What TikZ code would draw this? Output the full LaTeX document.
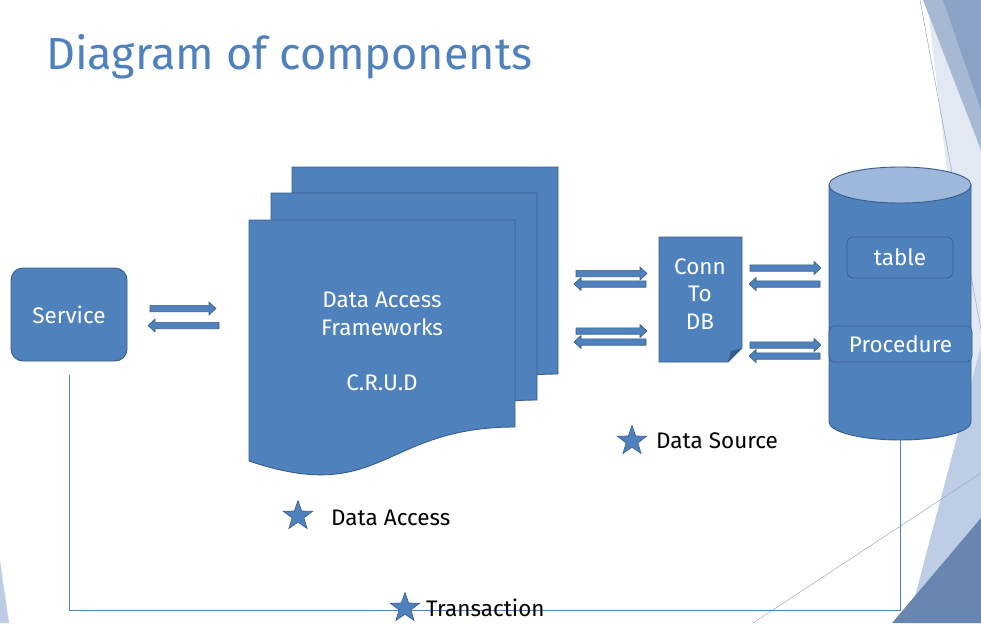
\documentclass[tikz,border=0pt]{standalone}
\usepackage{fontspec}
\setmainfont{Fira Sans}
\usetikzlibrary{shapes.geometric}

\definecolor{main}{HTML}{4F81BD}
\definecolor{edge}{HTML}{385D8A}
\definecolor{lid}{HTML}{9DB8DB}
\definecolor{facepale}{HTML}{E2E9F3}
\definecolor{facemid}{HTML}{A6B8D4}
\definecolor{facedark}{HTML}{8AA2C6}
\definecolor{facelight}{HTML}{BCCDE5}
\definecolor{facedeep}{HTML}{6886B0}
\definecolor{faceline}{HTML}{9AA8C4}

% block arrows: from x, to x, y
\newcommand{\rightpipe}[3]{\draw[pipe] (#1,#3-3.2) -- (#2-7,#3-3.2) -- (#2-7,#3-6.5) -- (#2,#3) -- (#2-7,#3+6.5) -- (#2-7,#3+3.2) -- (#1,#3+3.2) -- cycle;}
\newcommand{\leftpipe}[3]{\draw[pipe] (#1,#3-3.2) -- (#2+7,#3-3.2) -- (#2+7,#3-6.5) -- (#2,#3) -- (#2+7,#3+6.5) -- (#2+7,#3+3.2) -- (#1,#3+3.2) -- cycle;}
% one page of the data access stack
\newcommand{\dapage}[2]{\draw[tile] (#1,#2) -- (#1+266,#2) -- (#1+266,#2+207) .. controls (#1+133,#2+207) and (#1+133,#2+286) .. (#1,#2+241) -- cycle;}

\begin{document}
\begin{tikzpicture}[x=1pt, y=-1pt]
\tikzset{ tile/.style={fill=main, draw=edge, line width=0.9pt},
  intxt/.style={text=white, font=\fontsize{22.5}{27.5}\selectfont, align=center, inner sep=0pt},
  lbl/.style={text=black, font=\fontsize{22.5}{25}\selectfont, anchor=west, inner sep=0pt},
  pipe/.style={fill=main, draw=edge, line width=0.6pt},
  wire/.style={main, line width=0.8pt},
  starry/.style={star, star points=5, star point ratio=2.5, minimum size=31pt, inner sep=0pt, fill=main, draw=edge, line width=0.6pt},
}

\useasboundingbox (0,0) rectangle (981,623);

% slide background
\fill [facepale] (927,0) -- (981,0) -- (981,460) -- cycle;
\fill [facemid] (923,0) -- (981,0) -- (981,150) -- cycle;
\fill [facedark] (943,0) -- (981,0) -- (981,110) -- cycle;
\draw [faceline, line width=0.5pt] (920,0) -- (981,330);
\fill [facelight] (981,346) -- (908,623) -- (981,623) -- cycle;
\fill [facedeep] (981,518) -- (892,623) -- (981,623) -- cycle;
\draw [faceline, line width=0.5pt] (981,473) -- (753,623);
\fill [facelight] (0,560) -- (9,623) -- (0,623) -- cycle;

\node [anchor=base west, inner sep=0pt, text=main, font=\fontsize{45}{50}\selectfont] (TT) at (46,70) {Diagram of components};

\node [tile, rounded corners=12pt, minimum width=116pt, minimum height=93pt, intxt] (S) at (69,314.5) {Service};

\dapage{292}{167}
\dapage{271}{193}
\dapage{249}{220}
\node [intxt] (DA) at (382,314) {Data Access\\Frameworks};
\node [intxt] (CRUD) at (382,383) {C.R.U.D};

\draw [tile] (659,237) -- (742,237) -- (742,348) -- (728,362) -- (659,362) -- cycle;
\fill [edge] (728,362) -- (731,351) -- (742,348) -- cycle;
\node [intxt] (C) at (700,294) {Conn\\To\\DB};

\draw [tile] (829,185) -- (829,422) arc [start angle=180, end angle=0, x radius=71, y radius=18] -- (971,185) -- cycle;
\draw [fill=lid, draw=edge, line width=0.9pt] (900,185) ellipse [x radius=71, y radius=18];
\coordinate (DB) at (900,440);
\node [tile, rounded corners=6pt, line width=0.6pt, minimum width=106pt, minimum height=41pt, intxt] (TB) at (900,257.5) {table};
\node [tile, rounded corners=6pt, line width=0.6pt, minimum width=143pt, minimum height=36pt, intxt] (PR) at (900.5,344) {Procedure};

\rightpipe{150}{216}{308.5}
\leftpipe{219}{148}{325.5}
\rightpipe{576}{647}{273.5}
\leftpipe{646}{574}{284}
\rightpipe{576}{647}{331}
\leftpipe{646}{574}{342}
\rightpipe{750}{821}{268}
\leftpipe{820}{749}{284}
\rightpipe{750}{821}{345}
\leftpipe{820}{749}{356}

\draw [wire, shorten <=14pt] (S.south) -- (S.south |- 0,610) -- (DB |- 0,610) -- (DB);

\node [starry] (SA) at (298,516) {};
\node [lbl] (LA) at (331,518) {Data Access};
\node [starry] (SD) at (632,441) {};
\node [lbl] (LD) at (656,441) {Data Source};
\node [starry] (ST) at (405,608) {};
\node [lbl] (LT) at (426,608) {Transaction};

\end{tikzpicture}
\end{document}
